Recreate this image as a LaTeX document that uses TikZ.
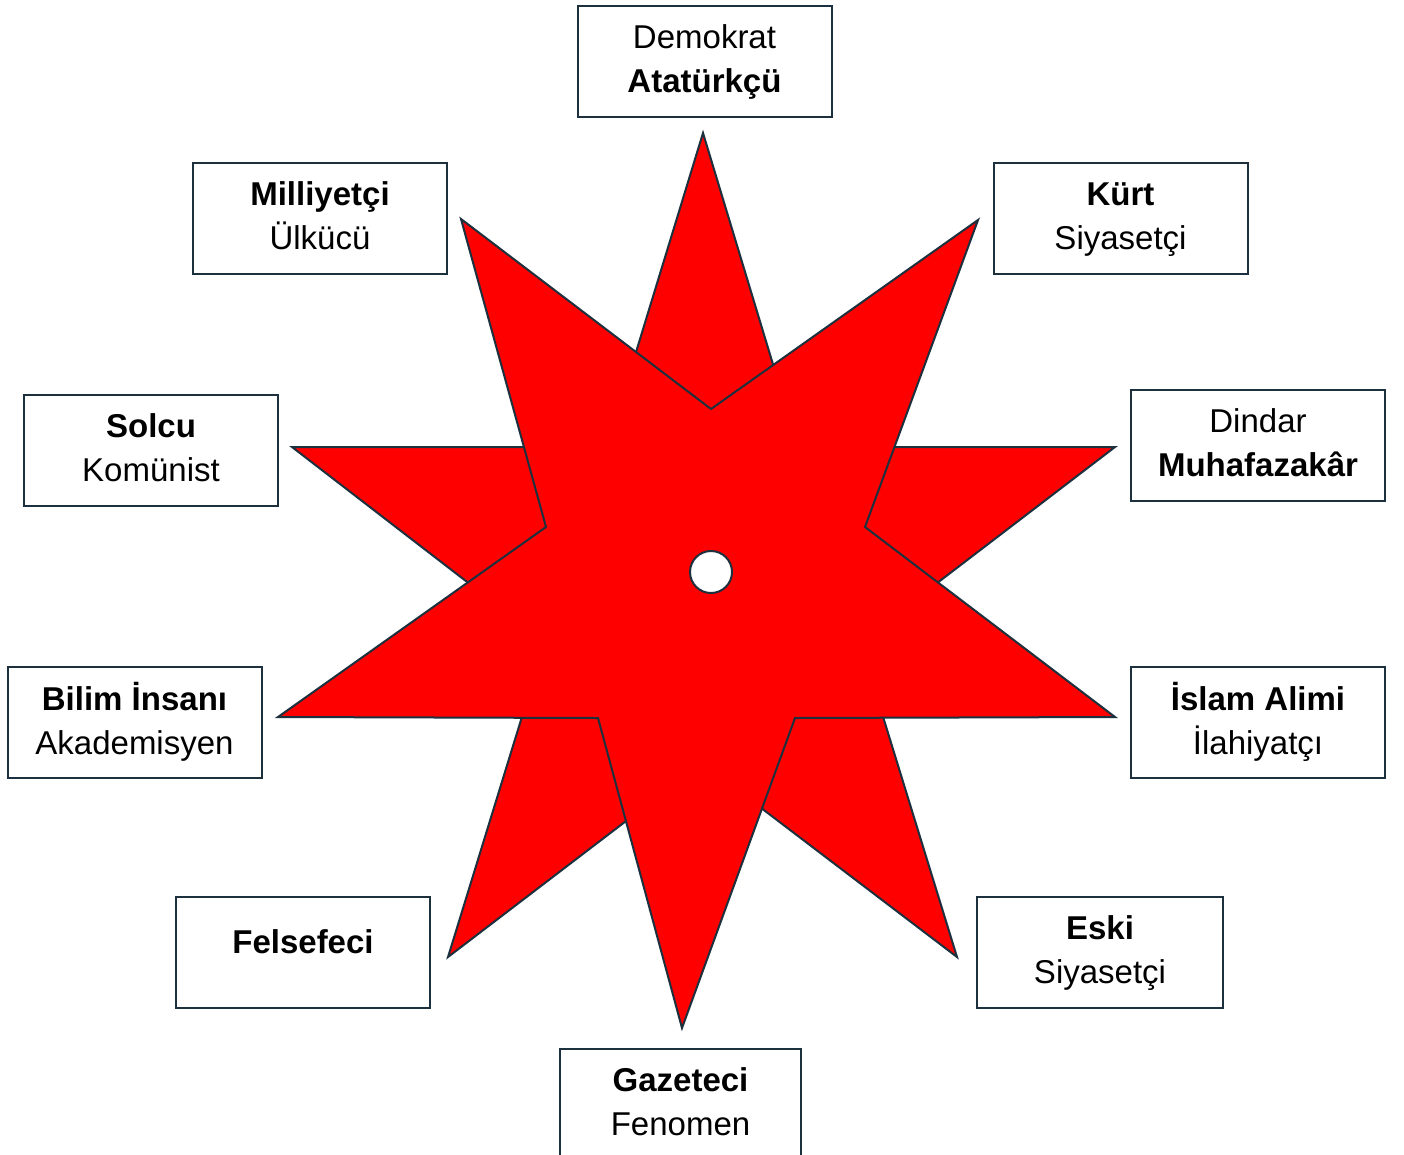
\documentclass[tikz,border=0pt]{standalone}
\usepackage{fontspec}
\setmainfont{Liberation Sans}
\definecolor{edgecol}{RGB}{28,48,62}
\definecolor{starred}{RGB}{255,0,0}
\newcommand\mystrut{\rule[-9pt]{0pt}{36pt}}
\begin{document}
\begin{tikzpicture}[x=1pt,y=-1pt,
  lbl/.style={draw=edgecol, line width=2pt, align=center, inner sep=0pt,
              minimum height=111pt, minimum width=254pt,
              font=\fontsize{33}{44}\selectfont},
  txt/.style={inner sep=0pt, font=\fontsize{33}{44}\selectfont},
  starshape/.style={fill=starred, draw=edgecol, line width=2pt, line join=miter}]
\useasboundingbox (0,0) rectangle (1404,1154);
\fill[white] (0,0) rectangle (1404,1154);

% upright star (behind)
\draw[starshape] (703,133) -- (798,447) -- (1115,447) -- (860,642) -- (957,957)
  -- (702,763) -- (448,957) -- (545,642) -- (292,447) -- (607,447) -- cycle;
% inverted star (front)
\draw[starshape] (461,219) -- (711,409) -- (978,220) -- (865,527) -- (1115,717)
  -- (795,718) -- (682,1028) -- (598,718) -- (278,717) -- (546,527) -- cycle;
% hub
\node[circle, draw=edgecol, line width=2pt, fill=white, minimum size=42pt, inner sep=0pt] (hub) at (711,572) {};

% labels
\node[lbl] (demokrat) at (704.5,61.5) {\mystrut Demokrat\\\mystrut\textbf{Atatürkçü}};
\node[lbl] (milli) at (320,218.5) {\mystrut\textbf{Milliyetçi}\\\mystrut Ülkücü};
\node[lbl] (kurt) at (1120.5,218.5) {\mystrut\textbf{Kürt}\\\mystrut Siyasetçi};
\node[lbl] (solcu) at (151,450) {\mystrut\textbf{Solcu}\\\mystrut Komünist};
\node[lbl] (dindar) at (1258,445) {\mystrut Dindar\\\mystrut\textbf{Muhafazakâr}};
\node[lbl] (bilim) at (134.5,722.5) {\mystrut\textbf{Bilim İnsanı}\\\mystrut Akademisyen};
\node[lbl] (islam) at (1258,722.5) {\mystrut\textbf{İslam Alimi}\\\mystrut İlahiyatçı};
\node[lbl] (felsefeci) at (303,952.5) {};
\node[txt, anchor=base] (felsefeci-t) at (303,953) {\textbf{Felsefeci}};
\node[lbl, minimum width=246pt] (eski) at (1100,952.5) {\mystrut\textbf{Eski}\\\mystrut Siyasetçi};
\node[lbl, minimum width=241pt] (gazeteci) at (680.5,1104.5) {\mystrut\textbf{Gazeteci}\\\mystrut Fenomen};
\end{tikzpicture}
\end{document}
